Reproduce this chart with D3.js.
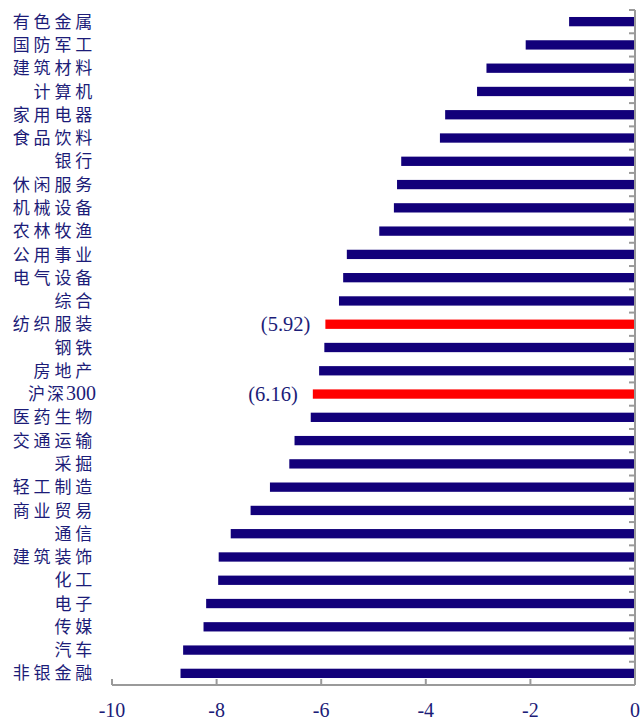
<!DOCTYPE html>
<html>
<head>
<meta charset="utf-8">
<script src="https://cdn.jsdelivr.net/npm/d3@7"></script>
<style>
  html, body { margin: 0; padding: 0; background: #fff; }
</style>
</head>
<body>
<svg id="chart" width="641" height="720"></svg>
<script>
const categories = ["有色金属","国防军工","建筑材料","计算机","家用电器","食品饮料","银行","休闲服务","机械设备","农林牧渔","公用事业","电气设备","综合","纺织服装","钢铁","房地产","沪深300","医药生物","交通运输","采掘","轻工制造","商业贸易","通信","建筑装饰","化工","电子","传媒","汽车","非银金融"];
const values = [-1.26,-2.09,-2.84,-3.02,-3.63,-3.73,-4.47,-4.55,-4.61,-4.89,-5.51,-5.58,-5.66,-5.92,-5.94,-6.04,-6.16,-6.20,-6.51,-6.61,-6.98,-7.35,-7.73,-7.96,-7.97,-8.20,-8.25,-8.64,-8.69];
const highlighted = ["纺织服装","沪深300"];
const xTicks = [-10,-8,-6,-4,-2,0];

const navy = "#12007a";
const textColor = "#1c1c78";
const axisColor = "#9a9a9a";

const svg = d3.select("#chart");
const x = d3.scaleLinear().domain([-10, 0]).range([112, 635]);
const y = d3.scaleBand().domain(categories).range([10, 685]).paddingInner(0.6).paddingOuter(0.3);
const step = y.step();

const data = categories.map((c, i) => ({ c, v: values[i] }));

// bars
svg.append("g").selectAll("rect").data(data).join("rect")
  .attr("x", d => x(d.v))
  .attr("width", d => x(0) - x(d.v))
  .attr("y", d => y(d.c))
  .attr("height", y.bandwidth())
  .attr("fill", d => highlighted.includes(d.c) ? "#ff0000" : navy);

// value labels for highlighted
svg.append("g").selectAll("text").data(data.filter(d => highlighted.includes(d.c))).join("text")
  .attr("x", d => x(d.v) - 15)
  .attr("y", d => y(d.c) + y.bandwidth() / 2)
  .attr("dy", "0.35em")
  .attr("text-anchor", "end")
  .attr("font-family", "'Liberation Serif', 'Times New Roman', serif")
  .attr("font-size", 20.5)
  .attr("fill", textColor)
  .text(d => "(" + Math.abs(d.v).toFixed(2) + ")");

// y axis (right side at 0)
const yAxisG = svg.append("g");
yAxisG.append("line")
  .attr("x1", x(0)).attr("x2", x(0))
  .attr("y1", y.range()[0]).attr("y2", y.range()[1])
  .attr("stroke", axisColor).attr("stroke-width", 2);
const boundaries = d3.range(categories.length + 1).map(i => y.range()[0] + i * step);
yAxisG.selectAll("line.t").data(boundaries).join("line")
  .attr("class", "t")
  .attr("x1", x(0) - 6).attr("x2", x(0))
  .attr("y1", d => d).attr("y2", d => d)
  .attr("stroke", axisColor).attr("stroke-width", 2);

// category labels
const labels = svg.append("g").selectAll("text").data(categories).join("text")
  .attr("x", 96)
  .attr("y", d => y(d) + y.bandwidth() / 2)
  .attr("dy", "0.36em")
  .attr("text-anchor", "end")
  .attr("fill", textColor)
  .attr("font-size", 17);
labels.each(function(d) {
  const t = d3.select(this);
  const m = d.match(/^([^0-9A-Za-z]*)(.*)$/);
  t.append("tspan")
    .attr("font-family", "'Noto Sans CJK SC', sans-serif")
    .attr("letter-spacing", m[2] ? 2 : 3.8)
    .text(m[1]);
  if (m[2]) {
    t.append("tspan")
      .attr("font-family", "'Liberation Serif', serif")
      .attr("font-size", 20)
      .text(m[2]);
  }
});

// x axis
const xAxisY = y.range()[1];
const xAxisG = svg.append("g");
xAxisG.append("line")
  .attr("x1", x(-10)).attr("x2", x(0))
  .attr("y1", xAxisY).attr("y2", xAxisY)
  .attr("stroke", axisColor).attr("stroke-width", 2);
xAxisG.selectAll("line.t").data(xTicks).join("line")
  .attr("class", "t")
  .attr("x1", d => x(d)).attr("x2", d => x(d))
  .attr("y1", xAxisY - 6).attr("y2", xAxisY)
  .attr("stroke", axisColor).attr("stroke-width", 2);
xAxisG.selectAll("text").data(xTicks).join("text")
  .attr("x", d => x(d))
  .attr("y", 710)
  .attr("dy", "0.35em")
  .attr("text-anchor", "middle")
  .attr("font-family", "'Liberation Serif', 'Times New Roman', serif")
  .attr("font-size", 20)
  .attr("fill", textColor)
  .text(d => d);
</script>
</body>
</html>
